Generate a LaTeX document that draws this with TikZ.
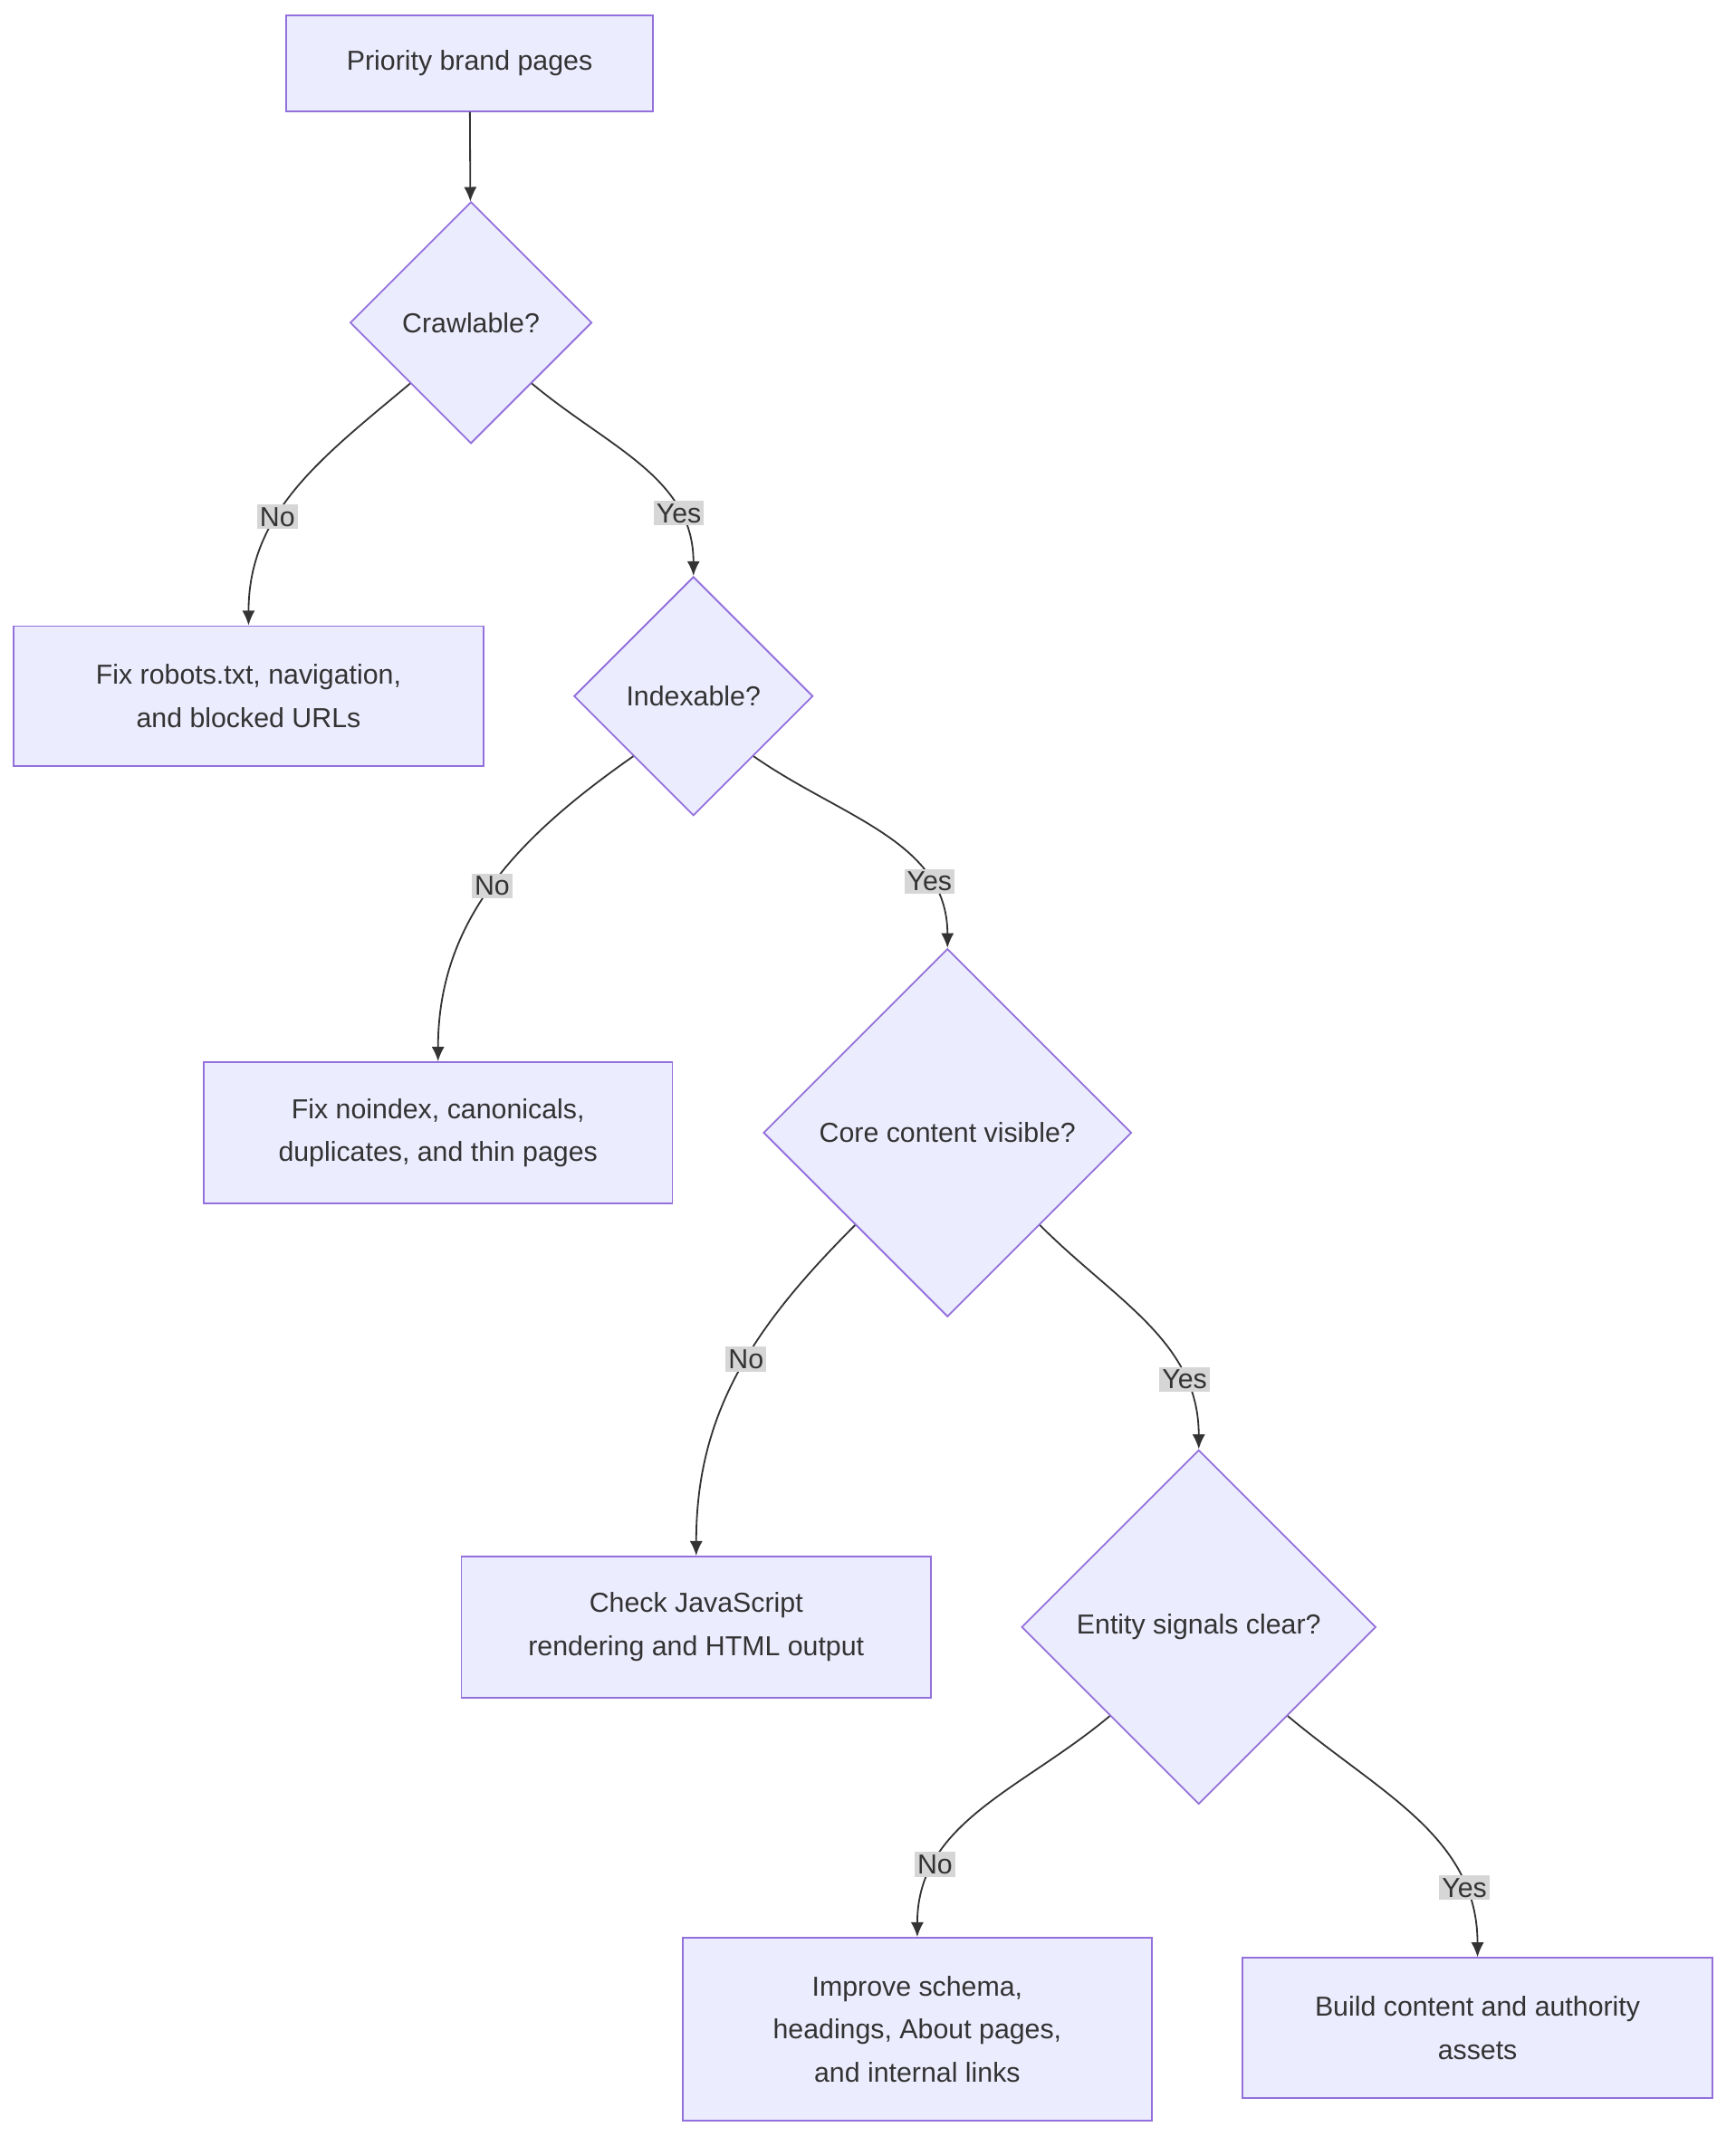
\documentclass[tikz,border=0pt]{standalone}
\usepackage{fontspec}
\setmainfont{Liberation Sans}
\usetikzlibrary{shapes.geometric, arrows.meta}
\definecolor{boxfill}{HTML}{ECECFF}
\definecolor{boxline}{HTML}{9370DB}
\definecolor{edgeline}{HTML}{333333}
\definecolor{lblfill}{HTML}{D6D6D6}
\tikzset{
  task/.style={rectangle, draw=boxline, fill=boxfill, line width=0.9pt, text=edgeline,
    inner sep=0pt, align=center, font=\fontsize{15}{23.5}\selectfont},
  check/.style={diamond, draw=boxline, fill=boxfill, line width=0.9pt, text=edgeline,
    inner sep=0pt, aspect=1, font=\fontsize{15}{23.5}\selectfont},
  flow/.style={draw=edgeline, line width=0.9pt, -{Latex[length=8pt,width=7pt]}},
  lbl/.style={fill=lblfill, text=edgeline, inner sep=1.5pt, font=\fontsize{15}{18}\selectfont}
}
\begin{document}
\begin{tikzpicture}[x=0.75pt,y=0.75pt,yscale=-1,xscale=1]
\useasboundingbox (0,0) rectangle (1264,1563);

% tasks and checks
\node[task, minimum width=200pt, minimum height=52.5pt] (pages) at (342,46) {Priority brand pages};
\node[check, minimum width=132pt, minimum height=132pt] (crawl) at (343,235) {Crawlable?};
\node[task, minimum width=256.5pt, minimum height=76.5pt] (robots) at (181,507) {Fix robots.txt, navigation,\\ and blocked URLs};
\node[check, minimum width=130.5pt, minimum height=130.5pt] (index) at (505,507) {Indexable?};
\node[task, minimum width=256pt, minimum height=77pt] (noindex) at (319,825) {Fix noindex, canonicals,\\ duplicates, and thin pages};
\node[check, minimum width=201pt, minimum height=201pt] (core) at (690,825) {Core content visible?};
\node[task, minimum width=256.5pt, minimum height=77pt] (jscheck) at (507,1185) {Check JavaScript\\ rendering and HTML output};
\node[check, minimum width=193.5pt, minimum height=193.5pt] (entity) at (873,1185) {Entity signals clear?};
\node[task, minimum width=256pt, minimum height=100pt] (schema) at (668,1478) {Improve schema,\\ headings, About pages,\\ and internal links};
\node[task, minimum width=256.5pt, minimum height=76.5pt] (assets) at (1076,1477) {Build content and authority\\ assets};

% connectors
\draw[flow] (pages) -- (crawl);
\draw[flow] (crawl.south west) to[out=140,in=-90] node[lbl, pos=0.62] {No} (robots.north);
\draw[flow] (crawl.south east) to[out=40,in=-90] node[lbl, pos=0.75] {Yes} (index.north);
\draw[flow] (index.south west) to[out=145,in=-90] node[lbl, pos=0.5] {No} (noindex.north);
\draw[flow] (index.south east) to[out=35,in=-90] node[lbl, pos=0.75] {Yes} (core.north);
\draw[flow] (core.south west) to[out=135,in=-90] node[lbl, pos=0.45] {No} (jscheck.north);
\draw[flow] (core.south east) to[out=45,in=-90] node[lbl, pos=0.75] {Yes} (entity.north);
\draw[flow] (entity.south west) to[out=140,in=-90] node[lbl, pos=0.75] {No} (schema.north);
\draw[flow] (entity.south east) to[out=40,in=-90] node[lbl, pos=0.78] {Yes} (assets.north);

\end{tikzpicture}
\end{document}
